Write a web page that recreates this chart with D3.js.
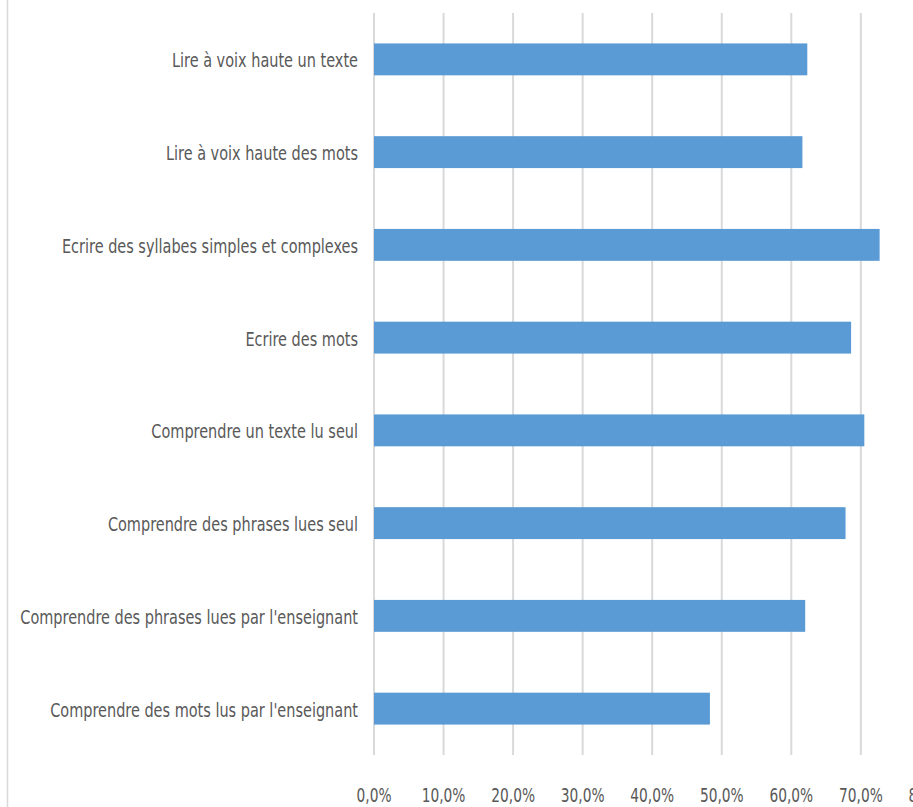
<!DOCTYPE html>
<html>
<head>
<meta charset="utf-8">
<script src="https://cdn.jsdelivr.net/npm/d3@7"></script>
<style>
  body { margin: 0; background: #fff; }
  text { font-family: "Liberation Sans Narrow", "DejaVu Sans Condensed", sans-serif; fill: #595959; }
</style>
</head>
<body>
<svg id="chart"></svg>
<script>
// categories, top to bottom
const categories = [
  "Lire à voix haute un texte",
  "Lire à voix haute des mots",
  "Ecrire des syllabes simples et complexes",
  "Ecrire des mots",
  "Comprendre un texte lu seul",
  "Comprendre des phrases lues seul",
  "Comprendre des phrases lues par l'enseignant",
  "Comprendre des mots lus par l'enseignant"
];
const values = [0.623, 0.616, 0.727, 0.686, 0.705, 0.678, 0.620, 0.483];
const xTicks = [0, 0.1, 0.2, 0.3, 0.4, 0.5, 0.6, 0.7, 0.8];

const width = 913, height = 807;
const margin = { top: 13, left: 374, bottom: 52 };
const plotBottom = height - margin.bottom;

const svg = d3.select("#chart")
    .attr("width", width)
    .attr("height", height);

const locale = d3.formatLocale({ decimal: ",", thousands: " ", grouping: [3], currency: ["", "€"] });
const fmt = locale.format(".1%");

const x = d3.scaleLinear()
    .domain([0, 0.8])
    .range([margin.left, margin.left + 8 * 69.55]);

const y = d3.scaleBand()
    .domain(categories)
    .range([margin.top, plotBottom])
    .paddingInner(0.656)
    .paddingOuter(0.328);

// left frame line
svg.append("line")
    .attr("x1", 7.5).attr("x2", 7.5)
    .attr("y1", 0).attr("y2", height)
    .attr("stroke", "#d9d9d9")
    .attr("stroke-width", 1.5);

// gridlines
svg.append("g")
  .selectAll("line")
  .data(xTicks)
  .join("line")
    .attr("x1", d => x(d)).attr("x2", d => x(d))
    .attr("y1", margin.top).attr("y2", plotBottom)
    .attr("stroke", "#d9d9d9")
    .attr("stroke-width", 2);

// bars
svg.append("g")
  .selectAll("rect")
  .data(values)
  .join("rect")
    .attr("x", x(0))
    .attr("y", (d, i) => y(categories[i]))
    .attr("width", d => x(d) - x(0))
    .attr("height", y.bandwidth())
    .attr("fill", "#5b9bd5");

// category labels (narrow font, squeezed horizontally like the original)
const labels = svg.append("g")
  .selectAll("text")
  .data(categories)
  .join("text")
    .attr("text-anchor", "end")
    .attr("dy", "0.4em")
    .style("font-size", "20px")
    .text(d => d);

let longest = d3.max(labels.nodes(), n => n.getComputedTextLength());
let kLab = 338 / longest;
labels.attr("transform", d => `translate(${margin.left - 16},${y(d) + y.bandwidth() / 2}) scale(${kLab},1)`);

// x tick labels
const ticks = svg.append("g")
  .selectAll("text")
  .data(xTicks)
  .join("text")
    .attr("text-anchor", "middle")
    .style("font-size", "20px")
    .text(d => fmt(d));

let kTick = 35 / ticks.nodes()[0].getComputedTextLength();
ticks.attr("transform", d => `translate(${x(d)},802) scale(${kTick},1)`);
</script>
</body>
</html>
